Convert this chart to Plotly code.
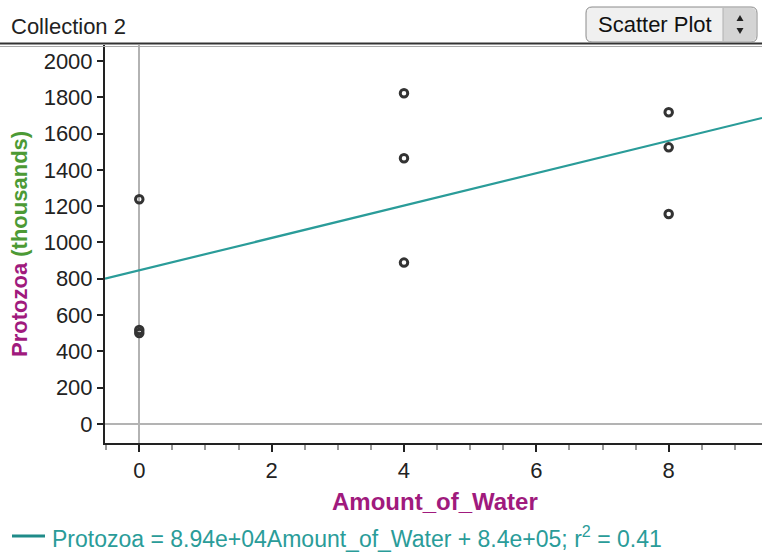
import numpy as np
import plotly.graph_objects as go

# ---- data ----
amount_of_water = [0, 0, 0, 4, 4, 4, 8, 8, 8]
protozoa_thousands = [1238, 518, 501, 1822, 1464, 889, 1717, 1524, 1157]

x_ticks = [0, 2, 4, 6, 8]
y_ticks = [0, 200, 400, 600, 800, 1000, 1200, 1400, 1600, 1800, 2000]

title_text = "Collection 2"
button_text = "Scatter Plot"
x_title = "Amount_of_Water"
y_title_main = "Protozoa"
y_title_unit = "(thousands)"
equation_text = "Protozoa = 8.94e+04Amount_of_Water + 8.4e+05; r<sup>2</sup> = 0.41"

x_range = [-0.518, 9.41]
y_range = [-105, 2088]

# ---- layout geometry (pixels) ----
W, H = 762, 554
L, R, T, B = 105, 0, 45, 111
PW, PH = W - L - R, H - T - B


def X(px):
    return (px - L) / PW


def Y(py):
    return (H - B - py) / PH


FONT = "Liberation Sans, Arial, sans-serif"
TEAL = "#2A9C99"
MAGENTA = "#A01A7D"
GREEN = "#4C9A35"

slope, intercept = np.polyfit(amount_of_water, protozoa_thousands, 1)
fit_x = np.array(x_range)
fit_y = slope * fit_x + intercept

fig = go.Figure()
fig.add_trace(go.Scatter(
    x=fit_x, y=fit_y, mode="lines",
    line=dict(color=TEAL, width=2.2),
    hoverinfo="skip", showlegend=False,
))
fig.add_trace(go.Scatter(
    x=amount_of_water, y=protozoa_thousands, mode="markers",
    marker=dict(symbol="circle-open", size=7.5, color="#333333",
                line=dict(width=3, color="#333333")),
    showlegend=False,
))

fig.update_xaxes(
    range=x_range, tickvals=x_ticks, ticktext=[str(v) for v in x_ticks],
    showgrid=False, zeroline=True, zerolinecolor="#b3b3b3", zerolinewidth=2,
    showline=True, linecolor="#222222", linewidth=2,
    ticks="outside", ticklen=7, tickwidth=2, tickcolor="#222222",
    minor=dict(dtick=0.5, tick0=0, ticks="outside", ticklen=5, tickwidth=1.5, tickcolor="#999999"),
    tickfont=dict(family=FONT, size=22, color="#222222"),
)
fig.update_yaxes(
    range=y_range, tickvals=y_ticks, ticktext=[str(v) for v in y_ticks],
    showgrid=False, zeroline=True, zerolinecolor="#b3b3b3", zerolinewidth=2,
    showline=True, linecolor="#222222", linewidth=2,
    ticks="outside", ticklen=6, tickwidth=2, tickcolor="#222222",
    tickfont=dict(family=FONT, size=22, color="#222222"),
)

annotations = [
    dict(text=title_text, x=X(9), y=Y(27), xref="paper", yref="paper",
         xanchor="left", yanchor="middle", showarrow=False,
         font=dict(family=FONT, size=22, color="#222222")),
    dict(text=button_text, x=X(655), y=Y(24), xref="paper", yref="paper",
         xanchor="center", yanchor="middle", showarrow=False,
         font=dict(family=FONT, size=22, color="#111111")),
    dict(text=f"<b>{x_title}</b>", x=X(435), y=Y(501), xref="paper", yref="paper",
         xanchor="center", yanchor="middle", showarrow=False,
         font=dict(family=FONT, size=24, color=MAGENTA)),
    dict(text=f"<b><span style='color:{MAGENTA}'>{y_title_main}</span> "
              f"<span style='color:{GREEN}'>{y_title_unit}</span></b>",
         x=X(19), y=Y(244), xref="paper", yref="paper", textangle=-90,
         xanchor="center", yanchor="middle", showarrow=False,
         font=dict(family=FONT, size=22, color=MAGENTA)),
    dict(text=equation_text, x=X(50), y=Y(537), xref="paper", yref="paper",
         xanchor="left", yanchor="middle", showarrow=False,
         font=dict(family=FONT, size=23, color=TEAL)),
]

shapes = [
    # header separator (double line)
    dict(type="line", xref="paper", yref="paper", x0=X(0), x1=X(W), y0=Y(43.5), y1=Y(43.5),
         line=dict(color="#333333", width=2)),
    dict(type="line", xref="paper", yref="paper", x0=X(0), x1=X(W), y0=Y(46.5), y1=Y(46.5),
         line=dict(color="#aaaaaa", width=1)),
    # button body
    dict(type="path", xref="paper", yref="paper",
         path=(f"M {X(592)},{Y(7)} L {X(751)},{Y(7)} Q {X(757)},{Y(7)} {X(757)},{Y(13)} "
               f"L {X(757)},{Y(36)} Q {X(757)},{Y(42)} {X(751)},{Y(42)} "
               f"L {X(592)},{Y(42)} Q {X(586)},{Y(42)} {X(586)},{Y(36)} "
               f"L {X(586)},{Y(13)} Q {X(586)},{Y(7)} {X(592)},{Y(7)} Z"),
         fillcolor="#f0f0f0", line=dict(color="#8a8a8a", width=1)),
    dict(type="path", xref="paper", yref="paper",
         path=(f"M {X(723)},{Y(8)} L {X(751)},{Y(8)} Q {X(756)},{Y(8)} {X(756)},{Y(13)} "
               f"L {X(756)},{Y(36)} Q {X(756)},{Y(41)} {X(751)},{Y(41)} L {X(723)},{Y(41)} Z"),
         fillcolor="#d4d4d4", line=dict(width=0)),
    dict(type="line", xref="paper", yref="paper", x0=X(723), x1=X(723), y0=Y(8), y1=Y(41),
         line=dict(color="#b0b0b0", width=1)),
    # spinner arrows
    dict(type="path", xref="paper", yref="paper",
         path=f"M {X(736.5)},{Y(21)} L {X(743.5)},{Y(21)} L {X(740)},{Y(15)} Z",
         fillcolor="#222222", line=dict(width=0)),
    dict(type="path", xref="paper", yref="paper",
         path=f"M {X(736.5)},{Y(28)} L {X(743.5)},{Y(28)} L {X(740)},{Y(34)} Z",
         fillcolor="#222222", line=dict(width=0)),
    # legend line for the fit
    dict(type="line", xref="paper", yref="paper", x0=X(12), x1=X(45), y0=Y(536), y1=Y(536),
         line=dict(color="#1f8b89", width=3)),
]

fig.update_layout(
    width=W, height=H,
    margin=dict(l=L, r=R, t=T, b=B, pad=0),
    paper_bgcolor="white", plot_bgcolor="white",
    font=dict(family=FONT, size=22, color="#222222"),
    annotations=annotations, shapes=shapes,
    showlegend=False,
)

fig.write_html(
    "out.html",
    config={"displayModeBar": False},
    post_script="document.body.style.margin='0';document.body.style.overflow='hidden';",
)
